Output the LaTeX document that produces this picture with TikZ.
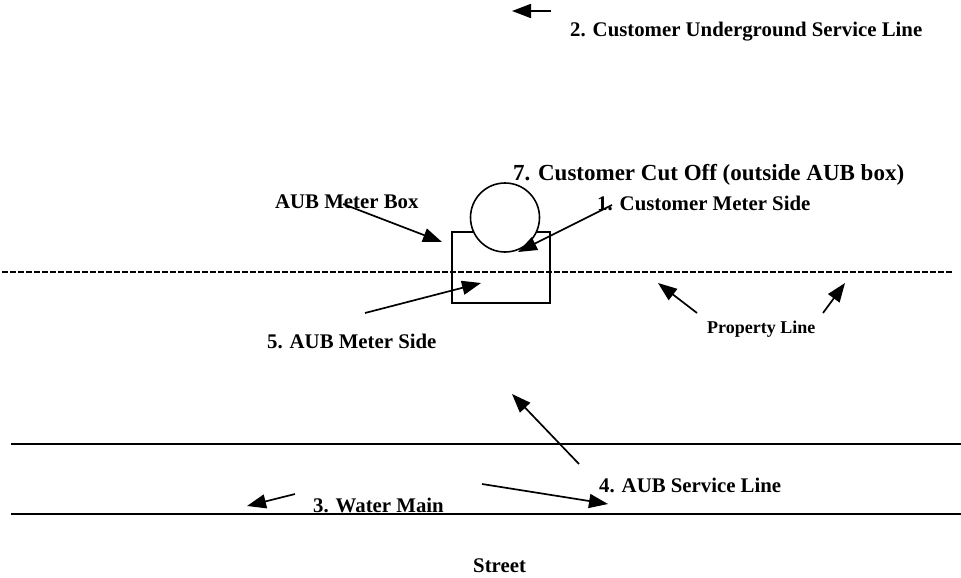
\documentclass[tikz,border=0pt]{standalone}
\usepackage{fontspec}
\setmainfont{Liberation Serif}
\usetikzlibrary{arrows.meta}
\tikzset{
  lbl/.style={anchor=base west, inner sep=0pt, font=\bfseries\fontsize{20.8}{24}\selectfont},
  biglbl/.style={lbl, font=\bfseries\fontsize{23}{27}\selectfont},
  smalllbl/.style={lbl, font=\bfseries\fontsize{18}{22}\selectfont},
  pointer/.style={line width=1.7pt, -{Triangle[length=19pt,width=14pt]}},
  road/.style={line width=2pt},
  propline/.style={line width=1.6pt, dash pattern=on 5.5pt off 2.5pt},
  box/.style={draw, line width=1.6pt, inner sep=0pt}
}
\begin{document}
\begin{tikzpicture}[x=1pt,y=-1pt]
\useasboundingbox (0,0) rectangle (961,578);
% lines
\coordinate (pl1) at (2,272); \coordinate (pl2) at (952,272);
\draw[propline] (pl1) -- (pl2);
\coordinate (s1a) at (11,444); \coordinate (s1b) at (961,444);
\coordinate (s2a) at (11,514); \coordinate (s2b) at (961,514);
\draw[road] (s1a) -- (s1b);
\draw[road] (s2a) -- (s2b);
% meter box and cut off
\node[box, rectangle, minimum width=98pt, minimum height=71pt] (mbox) at (501,267.5) {};
\node[box, circle, fill=white, minimum size=69pt] (cut) at (505,217.5) {};
% labels
\node[lbl] (l2) at (570,37) {2. Customer Underground Service Line};
\node[biglbl] (l7) at (513,180) {7. Customer Cut Off (outside AUB box)};
\node[lbl] (l1) at (597,210) {1. Customer Meter Side};
\node[lbl] (lbox) at (275,208) {AUB Meter Box};
\node[lbl] (l5) at (267,348) {5. AUB Meter Side};
\node[smalllbl] (lpl) at (707,333) {Property Line};
\node[lbl] (l4) at (599,492) {4. AUB Service Line};
\node[lbl] (l3) at (313,512) {3. Water Main};
\node[lbl] (lst) at (473,572) {Street};
% arrow coordinates
\coordinate (a2s) at (551,11); \coordinate (a2t) at (512,11);
\coordinate (abs) at (343,204); \coordinate (abt) at (442,242);
\coordinate (a1s) at (612,205); \coordinate (a1t) at (518,252);
\coordinate (a5s) at (365,313); \coordinate (a5t) at (481,283);
\coordinate (ap1s) at (697,313); \coordinate (ap1t) at (658,283);
\coordinate (ap2s) at (823,313); \coordinate (ap2t) at (845,283);
\coordinate (a4s) at (579,464); \coordinate (a4t) at (512,394);
\coordinate (a3rs) at (482,484); \coordinate (a3rt) at (608,504);
\coordinate (a3ls) at (295,494); \coordinate (a3lt) at (247,506);
% arrows
\draw[pointer] (a2s) -- (a2t);
\draw[pointer] (abs) -- (abt);
\draw[pointer] (a1s) -- (a1t);
\draw[pointer] (a5s) -- (a5t);
\draw[pointer] (ap1s) -- (ap1t);
\draw[pointer] (ap2s) -- (ap2t);
\draw[pointer] (a4s) -- (a4t);
\draw[pointer] (a3rs) -- (a3rt);
\draw[pointer] (a3ls) -- (a3lt);
\end{tikzpicture}
\end{document}
